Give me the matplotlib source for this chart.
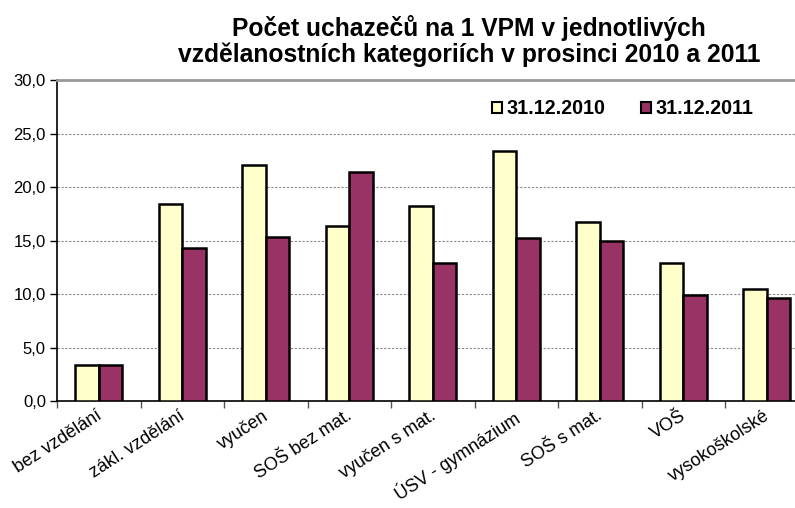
import matplotlib
matplotlib.use("Agg")
import matplotlib.pyplot as plt
import numpy as np
from matplotlib.patches import Patch

categories = ["bez vzdělání", "zákl. vzdělání", "vyučen", "SOŠ bez mat.",
              "vyučen s mat.", "ÚSV - gymnázium", "SOŠ s mat.", "VOŠ",
              "vysokoškolské"]
values_2010 = [3.4, 18.4, 22.1, 16.4, 18.2, 23.4, 16.7, 12.9, 10.5]
values_2011 = [3.4, 14.3, 15.3, 21.4, 12.9, 15.2, 15.0, 9.9, 9.6]
series_labels = ["31.12.2010", "31.12.2011"]
yticks = [0, 5, 10, 15, 20, 25, 30]

plt.rcParams["font.family"] = ["Liberation Sans", "DejaVu Sans"]

fig = plt.figure(figsize=(7.95, 5.08), dpi=100)
# plot area runs past the right edge, as in the source image
ax = fig.add_axes([0.0717, 0.2106, 0.9453, 0.6319])

xs = np.arange(len(categories))
w = 0.28
c2010, c2011 = "#FFFFCC", "#993366"
ax.bar(xs - w / 2, values_2010, width=w, color=c2010, edgecolor="black",
       linewidth=1.8, zorder=3)
ax.bar(xs + w / 2, values_2011, width=w, color=c2011, edgecolor="black",
       linewidth=1.8, zorder=3)

ax.set_xlim(-0.5, len(categories) - 0.5)
ax.set_ylim(0, 30)
ax.set_yticks(yticks)
ax.set_yticklabels([f"{v:.1f}".replace(".", ",") for v in yticks], fontsize=12)
ax.tick_params(axis="y", direction="out", length=5, width=1, pad=3)

# ticks between categories on the x axis, labels at centres
ax.set_xticks(np.arange(len(categories)) - 0.5, minor=False)
ax.set_xticklabels([])
ax.tick_params(axis="x", direction="out", length=5, width=1, color="#555555")
for x, lab in zip(xs, categories):
    ax.text(x - 0.04, -0.6, lab, rotation=33, ha="right", va="top",
            rotation_mode="anchor", fontsize=13)

ax.yaxis.grid(True, linestyle=(0, (2, 1.5)), color="#888888", linewidth=0.8, zorder=0)
ax.spines["right"].set_visible(False)
ax.spines["top"].set_color("#999999")
ax.spines["top"].set_linewidth(2)
ax.spines["left"].set_linewidth(1.2)
ax.spines["bottom"].set_linewidth(1.2)

handles = [Patch(facecolor=c2010, edgecolor="black", linewidth=1.5, label=series_labels[0]),
           Patch(facecolor=c2011, edgecolor="black", linewidth=1.5, label=series_labels[1])]
leg = ax.legend(handles=handles, loc="upper left", bbox_to_anchor=(0.555, 0.995),
                ncol=2, frameon=False, handlelength=0.5, handleheight=0.5,
                handletextpad=0.25, columnspacing=1.8,
                prop={"weight": "bold", "size": 14.2})

fig.text(0.590, 0.97, "Počet uchazečů na 1 VPM v jednotlivých\n"
         "vzdělanostních kategoriích v prosinci 2010 a 2011",
         ha="center", va="top", fontsize=17.7, fontweight="bold", linespacing=1.05)

fig.savefig("out.png", dpi=100)
